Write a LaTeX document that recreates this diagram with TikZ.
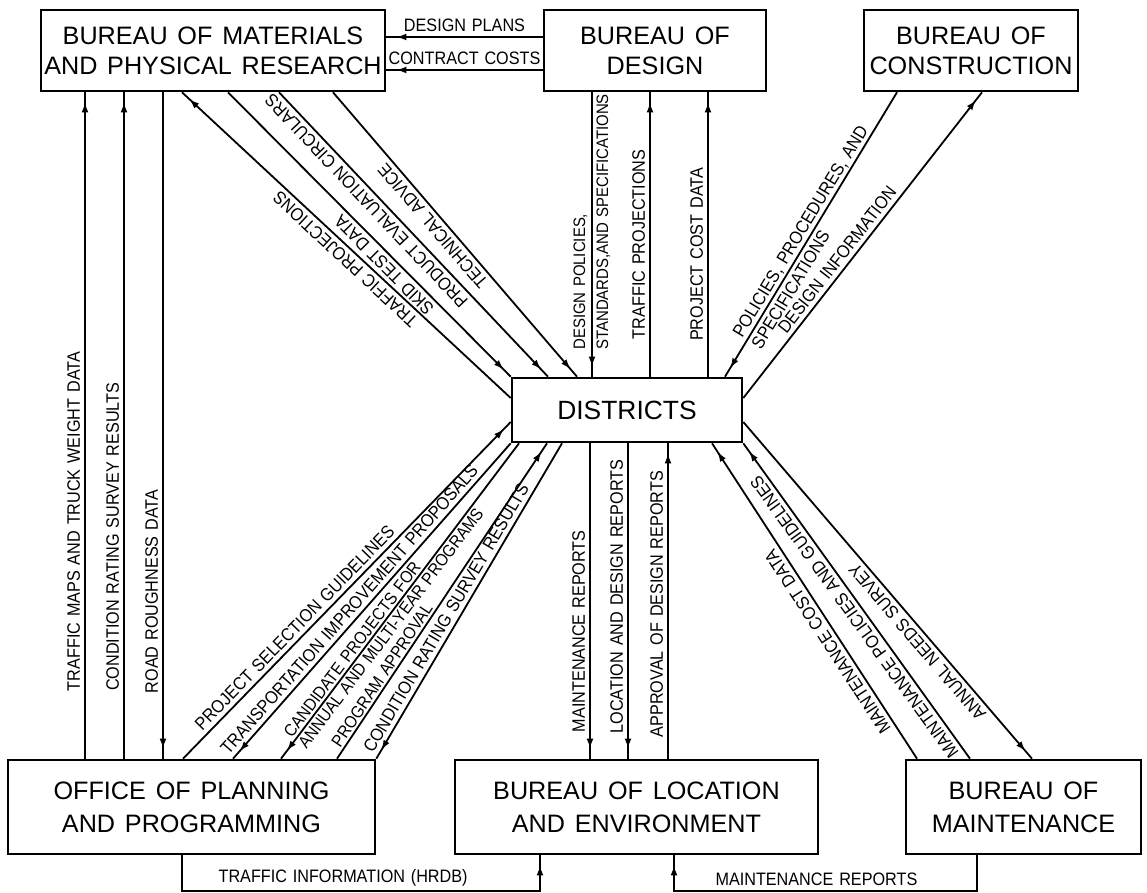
\documentclass[tikz,border=0pt]{standalone}
\usepackage{fontspec}
\setmainfont[WordSpace=1.4]{Liberation Sans}
\newfontfamily\labfont[FakeStretch=0.9,WordSpace=1.3]{Liberation Sans}
\usetikzlibrary{arrows.meta,decorations.markings}
\begin{document}
\begin{tikzpicture}[x=0.5pt,y=-0.5pt,
  unitbox/.style={draw, line width=1.3pt, inner sep=0pt, align=center, font=\fontsize{12.6}{15}\selectfont},
  wire/.style={line width=0.9pt},
  toend/.style={wire, postaction={decorate}, decoration={markings, mark=at position -5pt with {\arrow{Latex[length=5pt,width=3.4pt]}}}},
  tostart/.style={wire, postaction={decorate}, decoration={markings, mark=at position 5pt with {\arrowreversed{Latex[length=5pt,width=3.4pt]}}}},
  lab/.style={font=\labfont\fontsize{9}{11}\selectfont, inner sep=2pt},
]
\useasboundingbox (0,0) rectangle (1147,893);

% boxes
\node[unitbox, minimum width=172pt, minimum height=40.5pt] (mpr) at (213,50.5) {BUREAU OF MATERIALS\\AND PHYSICAL RESEARCH};
\node[unitbox, minimum width=111pt, minimum height=40.5pt] (des) at (655,50.5) {BUREAU OF\\DESIGN};
\node[unitbox, minimum width=107pt, minimum height=40.5pt] (con) at (971,50.5) {BUREAU OF\\CONSTRUCTION};
\node[unitbox, minimum width=115pt, minimum height=32pt, font=\fontsize{13.2}{15}\selectfont] (dis) at (627,410) {DISTRICTS};
\node[unitbox, minimum width=183.5pt, minimum height=47pt, font=\fontsize{12.6}{16.5}\selectfont] (opp) at (191.5,807) {OFFICE OF PLANNING\\AND PROGRAMMING};
\node[unitbox, minimum width=181.5pt, minimum height=47pt, font=\fontsize{12.6}{16.5}\selectfont] (ble) at (636.5,807) {BUREAU OF LOCATION\\AND ENVIRONMENT};
\node[unitbox, minimum width=117.5pt, minimum height=47pt, font=\fontsize{12.6}{16.5}\selectfont] (bm) at (1023.5,807) {BUREAU OF\\MAINTENANCE};

% Design -> MPR
\draw[toend] (des.west |- 0,37) -- (mpr.east |- 0,37) node[lab, midway, above] {DESIGN PLANS};
\draw[toend] (des.west |- 0,70) -- (mpr.east |- 0,70) node[lab, midway, above] {CONTRACT COSTS};

% OPP <-> MPR verticals
\draw[toend] (85,0 |- opp.north) -- (85,0 |- mpr.south) node[lab, sloped, pos=0.356, above] {TRAFFIC MAPS AND TRUCK WEIGHT DATA};
\draw[toend] (124,0 |- opp.north) -- (124,0 |- mpr.south) node[lab, sloped, pos=0.333, above] {CONDITION RATING SURVEY RESULTS};
\draw[tostart] (163,0 |- opp.north) -- (163,0 |- mpr.south) node[lab, sloped, pos=0.251, above] {ROAD ROUGHNESS DATA};

% MPR <-> Districts diagonals
\draw[toend] (dis.west |- 0,398) -- (182,0 |- mpr.south) node[lab, sloped, allow upside down, pos=0.48, above] {TRAFFIC PROJECTIONS};
\draw[tostart] (dis.north west) -- (228,0 |- mpr.south) node[lab, sloped, allow upside down, pos=0.42, above] {SKID TEST DATA};
\draw[tostart] (548,0 |- dis.north) -- (279,0 |- mpr.south) node[lab, sloped, allow upside down, pos=0.645, above] {PRODUCT EVALUATION CIRCULARS};
\draw[tostart] (577,0 |- dis.north) -- (333,0 |- mpr.south) node[lab, sloped, allow upside down, pos=0.556, above] {TECHNICAL ADVICE};

% Design <-> Districts
\draw[toend] (592,0 |- des.south) -- (592,0 |- dis.north);
\node[lab, rotate=90, anchor=west, align=left, font=\labfont\fontsize{8.3}{11.5}\selectfont] (dplab) at (592,354) {DESIGN POLICIES,\\STANDARDS,AND SPECIFICATIONS};
\draw[toend] (650,0 |- dis.north) -- (650,0 |- des.south) node[lab, sloped, pos=0.465, above] {TRAFFIC PROJECTIONS};
\draw[toend] (708,0 |- dis.north) -- (708,0 |- des.south) node[lab, sloped, pos=0.43, above] {PROJECT COST DATA};

% Construction <-> Districts
\draw[tostart] (725,0 |- dis.north) -- (897,0 |- con.south) node[lab, sloped, pos=0.11, anchor=west, align=left] {POLICIES, PROCEDURES, AND\\SPECIFICATIONS};
\draw[toend] (dis.east |- 0,398) -- (982,0 |- con.south) node[lab, sloped, pos=0.43, above] {DESIGN INFORMATION};

% OPP <-> Districts diagonals
\draw[toend] (183,0 |- opp.north) -- (dis.west |- 0,422) node[lab, sloped, pos=0.365, above] {PROJECT SELECTION GUIDELINES};
\draw[tostart] (233,0 |- opp.north) -- (dis.south west) node[lab, sloped, pos=0.449, above] {TRANSPORTATION IMPROVEMENT PROPOSALS};
\draw[tostart] (281,0 |- opp.north) -- (519,0 |- dis.south) node[lab, sloped, pos=0.05, anchor=west, align=left, inner sep=1pt, font=\labfont\fontsize{8.6}{9}\selectfont] {CANDIDATE PROJECTS FOR\\ANNUAL AND MULTI-YEAR PROGRAMS};
\draw[toend] (337,0 |- opp.north) -- (547,0 |- dis.south) node[lab, sloped, pos=0.25, above, inner sep=1pt, font=\labfont\fontsize{8.6}{10}\selectfont] {PROGRAM APPROVAL};
\draw[tostart] (opp.north east) -- (562,0 |- dis.south) node[lab, sloped, pos=0.428, above] {CONDITION RATING SURVEY RESULTS};

% Districts <-> BLE
\draw[tostart] (590,0 |- ble.north) -- (590,0 |- dis.south) node[lab, sloped, pos=0.404, above] {MAINTENANCE REPORTS};
\draw[tostart] (628,0 |- ble.north) -- (628,0 |- dis.south) node[lab, sloped, pos=0.514, above] {LOCATION AND DESIGN REPORTS};
\draw[toend] (668,0 |- ble.north) -- (668,0 |- dis.south) node[lab, sloped, pos=0.49, above] {APPROVAL OF DESIGN REPORTS};

% BM <-> Districts diagonals
\draw[toend] (917,0 |- bm.north) -- (712,0 |- dis.south) node[lab, sloped, allow upside down, pos=0.39, above] {MAINTENANCE COST DATA};
\draw[toend] (970,0 |- bm.north) -- (dis.south east) node[lab, sloped, allow upside down, pos=0.47, above] {MAINTENANCE POLICIES AND GUIDELINES};
\draw[tostart] (1032,0 |- bm.north) -- (dis.east |- 0,422) node[lab, sloped, allow upside down, pos=0.368, above] {ANNUAL NEEDS SURVEY};

% bottom connectors
\draw[toend] (182,0 |- opp.south) -- (182,891) -- node[lab, pos=0.45, above] {TRAFFIC INFORMATION (HRDB)} (540,891) -- (540,0 |- ble.south);
\draw[toend] (977,0 |- bm.south) -- (977,891) -- node[lab, pos=0.53, above] {MAINTENANCE REPORTS} (674,891) -- (674,0 |- ble.south);
\end{tikzpicture}
\end{document}
